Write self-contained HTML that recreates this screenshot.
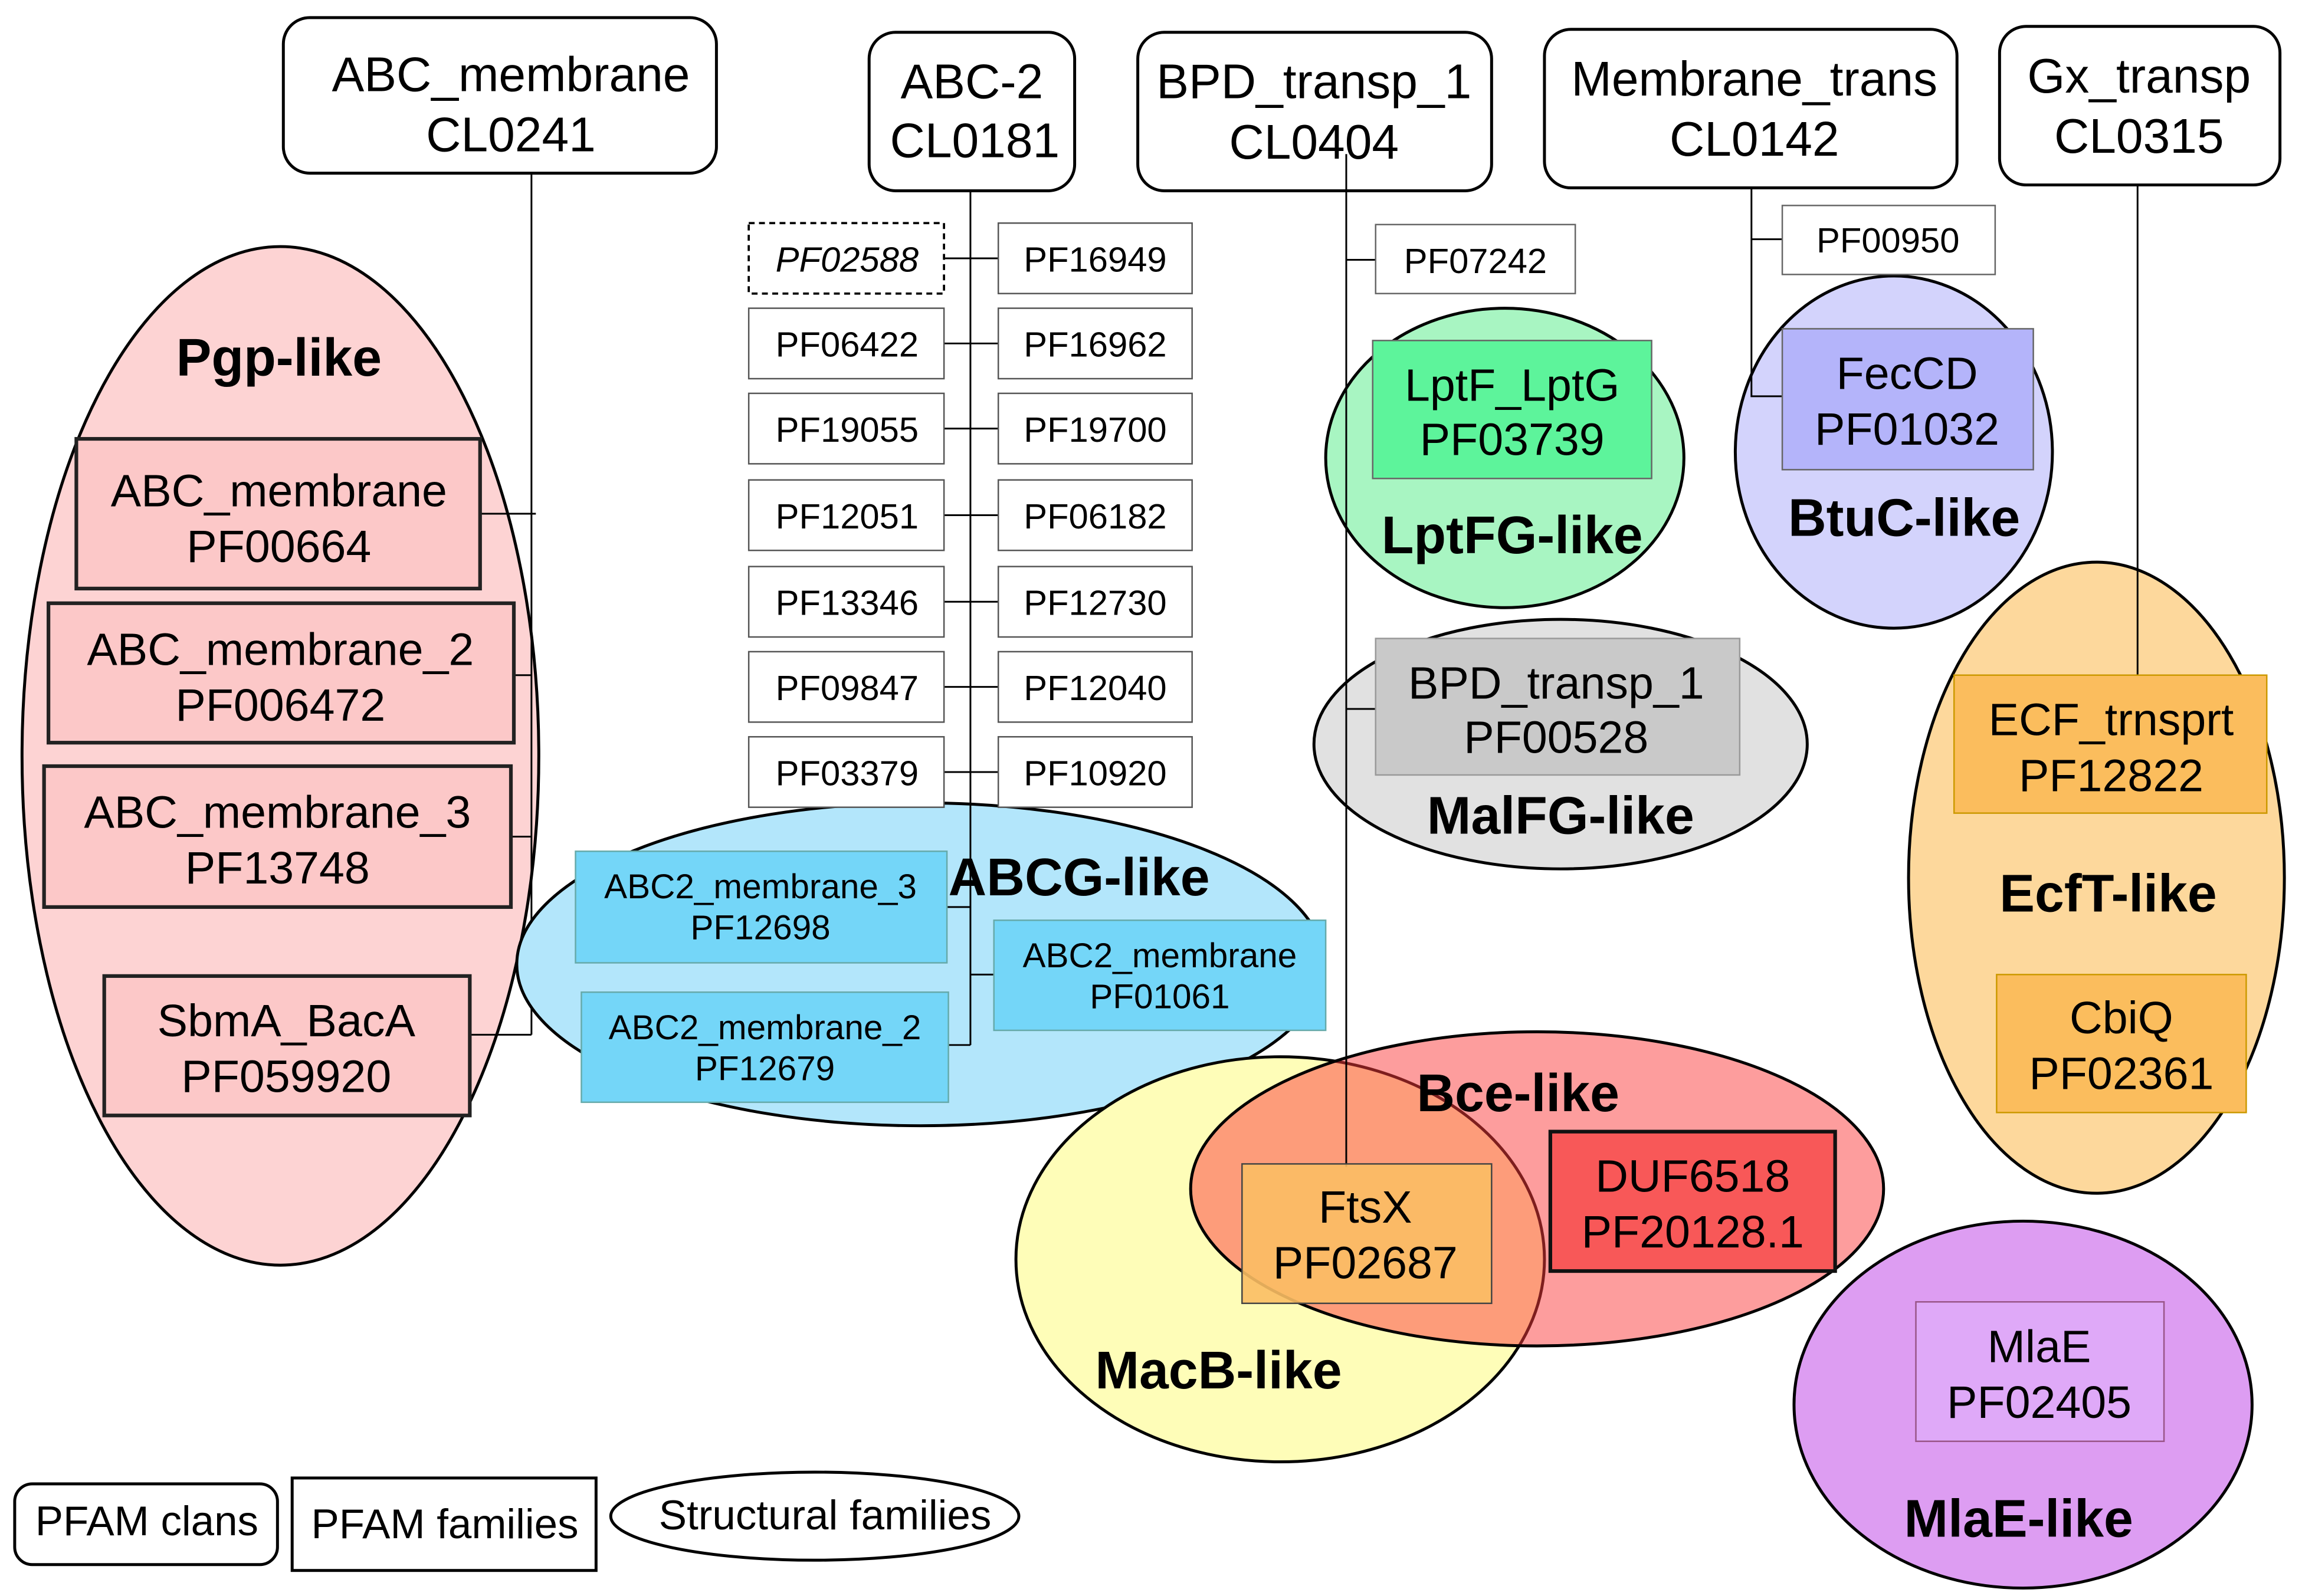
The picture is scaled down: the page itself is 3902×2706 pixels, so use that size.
<!DOCTYPE html>
<html><head><meta charset="utf-8"><style>html,body{margin:0;padding:0;background:#fff}svg{display:block}</style></head>
<body>
<svg xmlns="http://www.w3.org/2000/svg" width="3902" height="2706" viewBox="0 0 1568 1087.4" font-family="'Liberation Sans', Arial, sans-serif">
<rect width="1568" height="1088" fill="#fff"/>
<g stroke="#000" stroke-width="2" fill="#fff">
<rect x="193" y="12" width="295" height="106" rx="18"/>
<rect x="592" y="22" width="140" height="108" rx="18"/>
<rect x="775" y="22" width="241" height="108" rx="18"/>
<rect x="1052" y="20" width="281" height="108" rx="18"/>
<rect x="1362" y="18" width="191" height="108" rx="18"/>
</g>
<g font-size="33" text-anchor="middle" fill="#000">
<text x="348" y="62">ABC_membrane</text><text x="348" y="103">CL0241</text>
<text x="662" y="67">ABC-2</text><text x="664" y="107">CL0181</text>
<text x="895" y="67">BPD_transp_1</text><text x="895" y="108">CL0404</text>
<text x="1195" y="65">Membrane_trans</text><text x="1195" y="106">CL0142</text>
<text x="1457" y="63">Gx_transp</text><text x="1457" y="104">CL0315</text>
</g>
<!-- Pgp -->
<ellipse cx="191" cy="515" rx="176" ry="347" fill="#fdd3d3" stroke="#000" stroke-width="2"/>
<g stroke="#000" stroke-width="1.2" fill="none">
<path d="M362 118V705M327 350H365M350 460H362M348 570H362M320 705H362"/>
</g>
<g fill="#fcc8c8" stroke="#222" stroke-width="2.5">
<rect x="52" y="299" width="275" height="102"/>
<rect x="33" y="411" width="317" height="95"/>
<rect x="30" y="522" width="318" height="96"/>
<rect x="71" y="665" width="249" height="95"/>
</g>
<g font-size="31" text-anchor="middle">
<text x="190" y="256" font-weight="bold" font-size="36">Pgp-like</text>
<text x="190" y="345">ABC_membrane</text><text x="190" y="383">PF00664</text>
<text x="191" y="453">ABC_membrane_2</text><text x="191" y="491">PF006472</text>
<text x="189" y="564">ABC_membrane_3</text><text x="189" y="602">PF13748</text>
<text x="195" y="706">SbmA_BacA</text><text x="195" y="744">PF059920</text>
</g>
<!-- ABC-2 -->
<ellipse cx="627" cy="657" rx="275" ry="110" fill="#b3e6fb" stroke="#000" stroke-width="2"/>
<g stroke="#000" stroke-width="1.2" fill="none">
<path d="M661 130V712M643 176H680M643 234H680M643 292H680M643 351H680M643 410H680M643 468H680M643 526H680M645 618H661M661 664H677M646 712H661"/>
</g>
<g fill="#fff" stroke="#555" stroke-width="1">
<rect x="510" y="152" width="133" height="48" stroke="#000" stroke-dasharray="4,3" stroke-width="1.5"/>
<rect x="680" y="152" width="132" height="48"/>
<rect x="510" y="210" width="133" height="48"/><rect x="680" y="210" width="132" height="48"/>
<rect x="510" y="268" width="133" height="48"/><rect x="680" y="268" width="132" height="48"/>
<rect x="510" y="327" width="133" height="48"/><rect x="680" y="327" width="132" height="48"/>
<rect x="510" y="386" width="133" height="48"/><rect x="680" y="386" width="132" height="48"/>
<rect x="510" y="444" width="133" height="48"/><rect x="680" y="444" width="132" height="48"/>
<rect x="510" y="502" width="133" height="48"/><rect x="680" y="502" width="132" height="48"/>
</g>
<g font-size="24" text-anchor="middle">
<text x="577" y="185" font-style="italic">PF02588</text><text x="746" y="185">PF16949</text>
<text x="577" y="243">PF06422</text><text x="746" y="243">PF16962</text>
<text x="577" y="301">PF19055</text><text x="746" y="301">PF19700</text>
<text x="577" y="360">PF12051</text><text x="746" y="360">PF06182</text>
<text x="577" y="419">PF13346</text><text x="746" y="419">PF12730</text>
<text x="577" y="477">PF09847</text><text x="746" y="477">PF12040</text>
<text x="577" y="535">PF03379</text><text x="746" y="535">PF10920</text>
</g>
<g fill="#74d6f8" stroke="#6aa" stroke-width="1">
<rect x="392" y="580" width="253" height="76"/>
<rect x="677" y="627" width="226" height="75"/>
<rect x="396" y="676" width="250" height="75"/>
</g>
<g font-size="23.5" text-anchor="middle">
<text x="735" y="610" font-size="36" font-weight="bold">ABCG-like</text>
<text x="518" y="612">ABC2_membrane_3</text><text x="518" y="640">PF12698</text>
<text x="790" y="659">ABC2_membrane</text><text x="790" y="687">PF01061</text>
<text x="521" y="708">ABC2_membrane_2</text><text x="521" y="736">PF12679</text>
</g>
<!-- BPD -->
<ellipse cx="1025" cy="312" rx="122" ry="102" fill="#a8f5c2" stroke="#000" stroke-width="2"/>
<ellipse cx="1063" cy="507" rx="168" ry="85" fill="#e1e1e1" stroke="#000" stroke-width="2"/>
<ellipse cx="1290" cy="308" rx="108" ry="120" fill="#d3d3fc" stroke="#000" stroke-width="2"/>
<ellipse cx="1428" cy="598" rx="128" ry="215" fill="#fdd89c" stroke="#000" stroke-width="2"/>
<ellipse cx="1378" cy="957" rx="156" ry="125" fill="#dd9df2" stroke="#000" stroke-width="2"/>
<!-- MacB / Bce -->
<ellipse cx="872" cy="858" rx="180" ry="138" fill="#fefdb8" stroke="#000" stroke-width="2"/>
<ellipse cx="1047" cy="810" rx="236" ry="107" fill="rgba(252,60,60,0.5)" stroke="#000" stroke-width="2"/>
<g stroke="#000" stroke-width="1.2" fill="none">
<path d="M917 105V795M917 177H937M917 483H937M1193 128V270H1214M1193 163H1214M1456 126V460"/>
</g>
<g stroke="#666" stroke-width="1">
<rect x="937" y="153" width="136" height="47" fill="#fff"/>
<rect x="1214" y="140" width="145" height="47" fill="#fff"/>
<rect x="935" y="232" width="190" height="94" fill="#5df49b"/>
<rect x="937" y="435" width="248" height="93" fill="#c9c9c9" stroke="#999"/>
<rect x="1214" y="224" width="171" height="96" fill="#b4b4fa"/>
<rect x="1331" y="460" width="213" height="94" fill="#fbbd5d" stroke="#c90"/>
<rect x="1360" y="664" width="170" height="94" fill="#fbbd5d" stroke="#c90"/>
<rect x="1305" y="887" width="169" height="95" fill="#dfa9f8" stroke="#958"/>
<rect x="846" y="793" width="170" height="95" fill="rgba(251,190,100,0.9)" stroke="#444"/>
</g>
<rect x="1056" y="771" width="194" height="95" fill="#f85858" stroke="#111" stroke-width="2.5"/>
<g font-size="31" text-anchor="middle">
<text x="1005" y="186" font-size="24">PF07242</text>
<text x="1286" y="172" font-size="24">PF00950</text>
<text x="1030" y="273">LptF_LptG</text><text x="1030" y="310">PF03739</text>
<text x="1030" y="377" font-size="36" font-weight="bold">LptFG-like</text>
<text x="1060" y="476">BPD_transp_1</text><text x="1060" y="513">PF00528</text>
<text x="1063" y="568" font-size="36" font-weight="bold">MalFG-like</text>
<text x="1299" y="265">FecCD</text><text x="1299" y="303">PF01032</text>
<text x="1297" y="365" font-size="36" font-weight="bold">BtuC-like</text>
<text x="1438" y="501">ECF_trnsprt</text><text x="1438" y="539">PF12822</text>
<text x="1436" y="621" font-size="36" font-weight="bold">EcfT-like</text>
<text x="1445" y="704">CbiQ</text><text x="1445" y="742">PF02361</text>
<text x="1389" y="928">MlaE</text><text x="1389" y="966">PF02405</text>
<text x="1375" y="1047" font-size="36" font-weight="bold">MlaE-like</text>
<text x="1034" y="757" font-size="36" font-weight="bold">Bce-like</text>
<text x="930" y="833">FtsX</text><text x="930" y="871">PF02687</text>
<text x="1153" y="812">DUF6518</text><text x="1153" y="850">PF20128.1</text>
<text x="830" y="946" font-size="36" font-weight="bold">MacB-like</text>
</g>
<!-- legend -->
<rect x="10" y="1011" width="179" height="55" rx="12" fill="#fff" stroke="#000" stroke-width="2"/>
<rect x="199" y="1007" width="207" height="63" fill="#fff" stroke="#000" stroke-width="2"/>
<ellipse cx="555" cy="1033" rx="139" ry="30" fill="#fff" stroke="#000" stroke-width="2"/>
<g font-size="28.5" text-anchor="middle">
<text x="100" y="1046">PFAM clans</text>
<text x="303" y="1048">PFAM families</text>
<text x="562" y="1042">Structural families</text>
</g>
</svg>
</body></html>
